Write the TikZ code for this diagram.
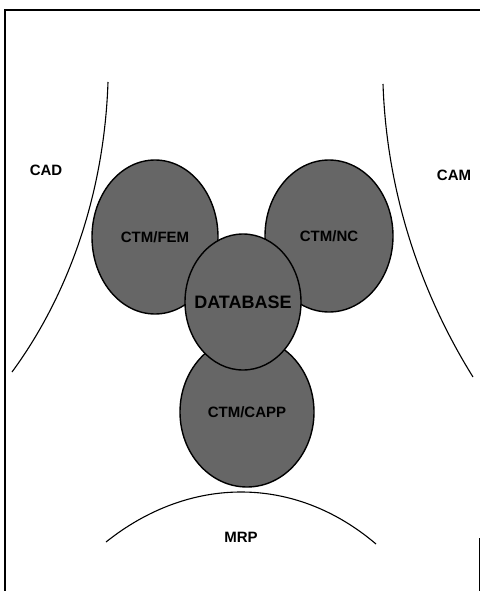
\documentclass[tikz,border=0pt]{standalone}
\usepackage{fontspec}
\setsansfont{Liberation Sans}
\usetikzlibrary{shapes.geometric}
\tikzset{
  font=\sffamily\bfseries,
  area/.style={font=\sffamily\bfseries\fontsize{15}{15}\selectfont,inner sep=0pt},
  blob/.style={draw=black,line width=1.4pt,ellipse,fill=black!60,inner sep=0pt,
               font=\sffamily\bfseries\fontsize{15}{15}\selectfont},
  rim/.style={line width=1.1pt,draw=black},
}

\begin{document}
\begin{tikzpicture}[x=1pt,y=-1pt]
  \useasboundingbox (0,0) rectangle (480,591);
  % frame
  \draw[line width=1.2pt] (5,595) -- (5,10) -- (480,10);
  \draw[line width=1pt] (479,538) -- (479,595);

  % outer areas
  \draw[rim] (108,82) .. controls (104,200) and (65,300) .. (12,372);
  \draw[rim] (383,84) .. controls (387,200) and (425,300) .. (473,377);
  \draw[rim] (106,542) .. controls (190,475) and (295,475) .. (376,544);
  \node[area] (cad) at (46,170) {CAD};
  \node[area] (cam) at (454,175) {CAM};
  \node[area] (mrp) at (241,537) {MRP};

  % modules
  \node[blob,minimum width=126pt,minimum height=154pt] (fem) at (155,237) {CTM/FEM};
  \node[blob,minimum width=128pt,minimum height=152pt] (nc) at (329,236) {CTM/NC};
  \node[blob,minimum width=134pt,minimum height=150pt] (capp) at (247,412) {CTM/CAPP};
  \node[blob,minimum width=116pt,minimum height=136pt,
        label={[font=\sffamily\bfseries\fontsize{18}{18}\selectfont,inner sep=0pt]center:DATABASE}]
        (db) at (243,302) {};
\end{tikzpicture}
\end{document}
